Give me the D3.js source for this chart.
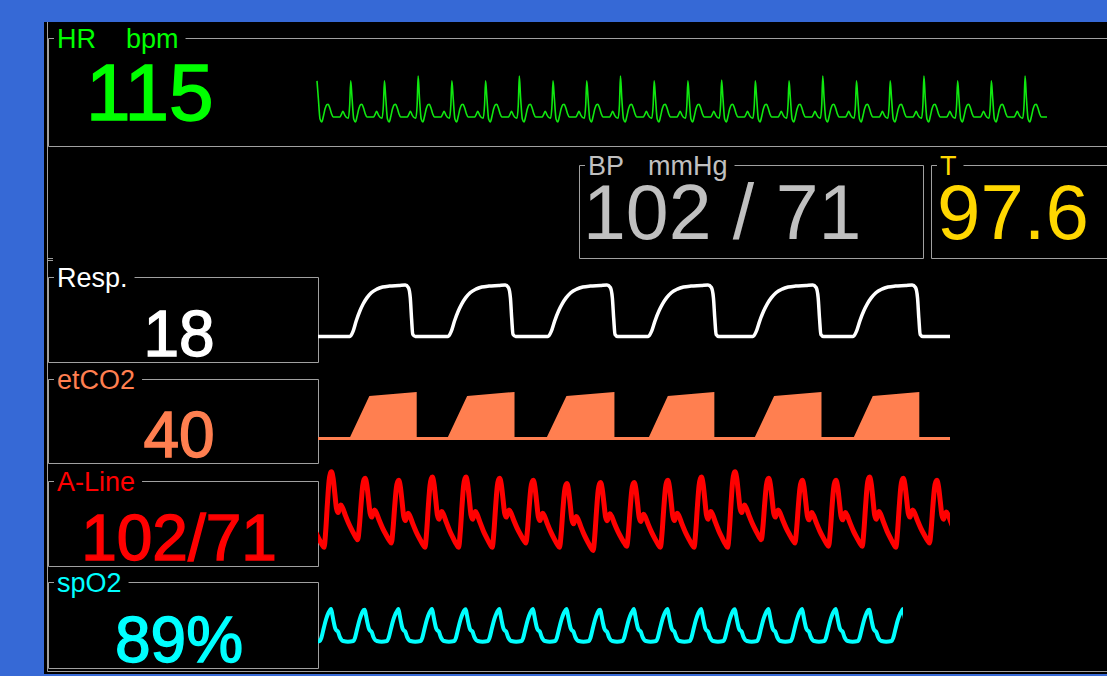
<!DOCTYPE html>
<html>
<head>
<meta charset="utf-8">
<script src="https://cdn.jsdelivr.net/npm/d3@7"></script>
<style>
  body { margin: 0; background: #3669d6; overflow: hidden; }
  svg { display: block; font-family: "Liberation Sans", Arial, sans-serif; }
</style>
</head>
<body>
<div id="monitor"></div>
<script>

// numeric readouts
var hrLabel = ["HR", "bpm"],
    hrValue = "115",
    bpLabel = ["BP", "mmHg"],
    bpValue = "102 / 71",
    tempLabel = ["T"],
    tempValue = "97.6";

var sideLabels = ["Resp.", "etCO2", "A-Line", "spO2"],
    sideValues = ["18", "40", "102/71", "89%"];

// ECG: one beat, phase counted from the R peak, amplitude in mV
var ecgPhase = [0, 0.04, 0.09, 0.14, 0.19, 0.24, 0.29, 0.33, 0.38, 0.43, 0.48, 0.68, 0.72, 0.77, 0.82, 0.86, 0.93, 0.97];
var ecgShape = [1, 0.45, -0.05, -0.12, 0.02, 0.2, 0.3, 0.31, 0.22, 0.08, 0, 0, 0.06, 0.14, 0.05, 0, -0.03, 0.3];
// R wave height of each beat on screen
var ecgR = [0.88, 0.88, 0.88, 1.0, 0.88, 0.88, 1.0, 0.88, 0.88, 1.0, 0.88,
            0.88, 0.9, 0.88, 0.88, 1.0, 0.88, 0.88, 1.0, 0.88, 0.88, 1.0];

// respiration: breath onset and length (s) in a 21 s sweep, shape 0..1
var respOnset = [1.06, 4.32, 7.64, 10.97, 14.45, 17.78],
    respLength = [2.09, 2.16, 2.23, 2.26, 2.26, 2.23];
var respPhase = [0, 0.05, 0.1, 0.16, 0.21, 0.27, 0.34, 0.43, 0.52, 0.63, 0.78, 0.88, 0.93, 0.96, 0.98, 1.0, 1.04];
var respShape = [0, 0.1, 0.3, 0.5, 0.63, 0.75, 0.85, 0.92, 0.96, 0.98, 0.99, 1.0, 0.95, 0.75, 0.35, 0.04, 0];

// capnogram: exhalation onset and length (s), plateau in mmHg
var co2Onset = [1.10, 4.35, 7.64, 11.03, 14.55, 17.84],
    co2Length = [2.13, 2.13, 2.16, 2.09, 2.13, 2.09];
var co2Phase = [0, 0.3, 1, 1];
var co2Shape = [0, 36.5, 40, 0];

// arterial line: fraction of the way from systolic peak down to the trough
var abpPhase = [0, 0.05, 0.1, 0.15, 0.2, 0.24, 0.28, 0.33, 0.42, 0.52, 0.62, 0.72, 0.78, 0.83, 0.88, 0.93, 0.97];
var abpShape = [0, 0.1, 0.32, 0.54, 0.6, 0.53, 0.49, 0.53, 0.65, 0.77, 0.87, 0.96, 1, 0.78, 0.42, 0.12, 0.02];
// systolic peak of each beat and the trough after it (mmHg), first beat is off screen
var abpSys = [101, 104, 101, 100, 101.5, 101.5, 101, 100, 98.5, 99, 99, 100, 101.5, 104, 101, 100, 100, 101.5, 101, 100];
var abpDia = [69, 72.5, 71, 69, 69, 69, 71, 69, 67.5, 69.5, 69, 69, 69, 72.5, 71, 69.5, 69.5, 69, 71, 70];

// pleth: one pulse, phase counted from the peak, normalised
var plethPhase = [0, 0.04, 0.08, 0.12, 0.16, 0.2, 0.26, 0.32, 0.36, 0.5, 0.66, 0.71, 0.78, 0.85, 0.92, 0.97];
var plethShape = [1, 0.8, 0.58, 0.4, 0.33, 0.3, 0.12, 0.02, 0, -0.02, 0, 0.1, 0.4, 0.68, 0.88, 0.97];
var plethPeak = [1, 1, 0.98, 1, 1, 0.99, 1, 1, 1, 0.98, 1, 1, 1, 0.99, 1, 1, 1, 0.98, 1];


var W = 1107, H = 676,
    grid = "#a0a0a0",
    labelSize = 27;

var svg = d3.select("#monitor")
            .append("svg")
            .attr("width", W)
            .attr("height", H);

svg.append("rect")
   .attr("x", 44).attr("y", 22)
   .attr("width", W - 44).attr("height", 652)
   .attr("fill", "#000");

// outer left rule and the bottom rule
svg.append("path")
   .attr("d", "M47.5,22V671.5H" + W)
   .attr("fill", "none").attr("stroke", grid);
svg.append("path")
   .attr("d", "M48,258.5H53M48,260.5H53")
   .attr("stroke", grid);

// frame with its title cut into the top border; gaps = space before each later word
function frame(x0, y0, x1, y1, words, color, gaps) {
    var g = svg.append("g");
    var end = x0 + 9;
    words.forEach(function (w, i) {
        var t = g.append("text")
                 .attr("x", i == 0 ? x0 + 9 : end + gaps[i - 1])
                 .attr("y", y0 + 9.5)
                 .attr("fill", color)
                 .style("font-size", labelSize + "px")
                 .text(w);
        end = +t.attr("x") + t.node().getComputedTextLength();
    });
    g.append("path")
     .attr("d", "M" + (x0 + 6) + "," + (y0 + 0.5) + "H" + (x0 + 0.5) + "V" + (y1 + 0.5) +
                "H" + (x1 + 0.5) + "V" + (y0 + 0.5) + "H" + (end + 7))
     .attr("fill", "none")
     .attr("stroke", grid);
    return g;
}

// big readout; heavy adds a thin outline in the same colour
function bigText(g, x, y, txt, color, size, anchor, heavy) {
    g.append("text")
     .attr("x", x).attr("y", y)
     .attr("fill", color)
     .attr("stroke", heavy ? color : "none")
     .attr("stroke-width", heavy || 0)
     .attr("text-anchor", anchor || "start")
     .style("font-size", size + "px")
     .text(txt);
}

// top row
var hr = frame(48, 38, W + 10, 146, hrLabel, "#00ff00", [30]);
bigText(hr, 86, 120, hrValue, "#00ff00", 80, "start", 1.6);

var bp = frame(579, 165, 923, 258, bpLabel, "#c0c0c0", [24]);
bigText(bp, 583, 239, bpValue, "#c0c0c0", 77);

var tp = frame(931, 165, W + 10, 258, tempLabel, "#ffd700", []);
bigText(tp, 937, 239, tempValue, "#ffd700", 78);

// left column of numeric boxes
var sideColors = ["#ffffff", "#ff7f50", "#ff0000", "#00ffff"],
    sideTop = [277, 379, 481, 582],
    sideBottom = [362, 463, 566, 668];

sideLabels.forEach(function (lab, i) {
    var g = frame(48, sideTop[i], 318, sideBottom[i], [lab], sideColors[i], []);
    bigText(g, 179, sideBottom[i] - 6.5, sideValues[i], sideColors[i], 64, "middle", 1.4);
});


// waveforms
var defs = svg.append("defs");
function clipTo(id, x0, x1) {
    defs.append("clipPath").attr("id", id)
        .append("rect").attr("x", x0).attr("y", 0).attr("width", x1 - x0).attr("height", H);
    return "url(#" + id + ")";
}

function trace(pts, x, y, color, width, clip) {
    var line = d3.line()
                 .x(function (d) { return x(d[0]); })
                 .y(function (d) { return y(d[1]); })
                 .curve(d3.curveMonotoneX);
    svg.append("path")
       .datum(pts)
       .attr("clip-path", clip)
       .attr("d", line)
       .attr("fill", "none")
       .attr("stroke", color)
       .attr("stroke-width", width)
       .attr("stroke-linejoin", "round");
}

// ECG
var ecgPts = [];
ecgR.forEach(function (r, i) {
    ecgPhase.forEach(function (p, j) {
        ecgPts.push([i + p, j == 0 ? r : ecgShape[j]]);
    });
});
ecgPts.push([ecgR.length, ecgR[ecgR.length - 1]]);
var xEcg = d3.scaleLinear().domain([0, 21.65]).range([317, 1047]),
    yEcg = d3.scaleLinear().domain([0, 1]).range([117, 76]);
trace(ecgPts, xEcg, yEcg, "#10e810", 1.6, clipTo("c-ecg", 316, 1047));

// respiration
var xSweep = d3.scaleLinear().domain([0, 21]).range([318, 950]);
var respPts = [[0, 0]];
respOnset.forEach(function (t0, i) {
    respPhase.forEach(function (p, j) {
        respPts.push([t0 + p * respLength[i], respShape[j]]);
    });
});
respPts.push([21, 0]);
var yResp = d3.scaleLinear().domain([0, 1]).range([336.5, 285]);
trace(respPts, xSweep, yResp, "#ffffff", 3.5, clipTo("c-resp", 318, 950));

// capnogram (filled)
var co2Pts = [[0, 0]];
co2Onset.forEach(function (t0, i) {
    co2Phase.forEach(function (p, j) {
        co2Pts.push([t0 + p * co2Length[i], co2Shape[j]]);
    });
});
co2Pts.push([21, 0]);
var yCo2 = d3.scaleLinear().domain([0, 40]).range([438.5, 393.6]);
svg.append("path")
   .datum(co2Pts)
   .attr("clip-path", clipTo("c-co2", 318, 950))
   .attr("d", d3.area()
                .x(function (d) { return xSweep(d[0]); })
                .y0(yCo2(0))
                .y1(function (d) { return yCo2(d[1]); }))
   .attr("fill", "#ff7f50")
   .attr("stroke", "#ff7f50")
   .attr("stroke-width", 3);

// arterial line
var abpPts = [];
abpSys.forEach(function (s, k) {
    var next = k + 1 < abpSys.length ? abpSys[k + 1] : s;
    abpPhase.forEach(function (p, j) {
        var f = abpShape[j];
        var v = p <= 0.78 ? s - f * (s - abpDia[k]) : next - f * (next - abpDia[k]);
        abpPts.push([k - 1 + p, v]);
    });
});
var xAbp = d3.scaleLinear().domain([-0.4, 18.39]).range([318, 950]),
    yAbp = d3.scaleLinear().domain([71, 102]).range([543, 476]);
trace(abpPts, xAbp, yAbp, "#ff0000", 5, clipTo("c-abp", 318, 950));

// pleth
var plethPts = [];
plethPeak.forEach(function (a, k) {
    plethPhase.forEach(function (p, j) {
        plethPts.push([k - 1 + p, a * plethShape[j]]);
    });
});
var xPleth = d3.scaleLinear().domain([-0.39, 17]).range([318, 903]),
    yPleth = d3.scaleLinear().domain([0, 1]).range([641, 609]);
trace(plethPts, xPleth, yPleth, "#00ffff", 4, clipTo("c-pleth", 318, 903));

</script>
</body>
</html>
